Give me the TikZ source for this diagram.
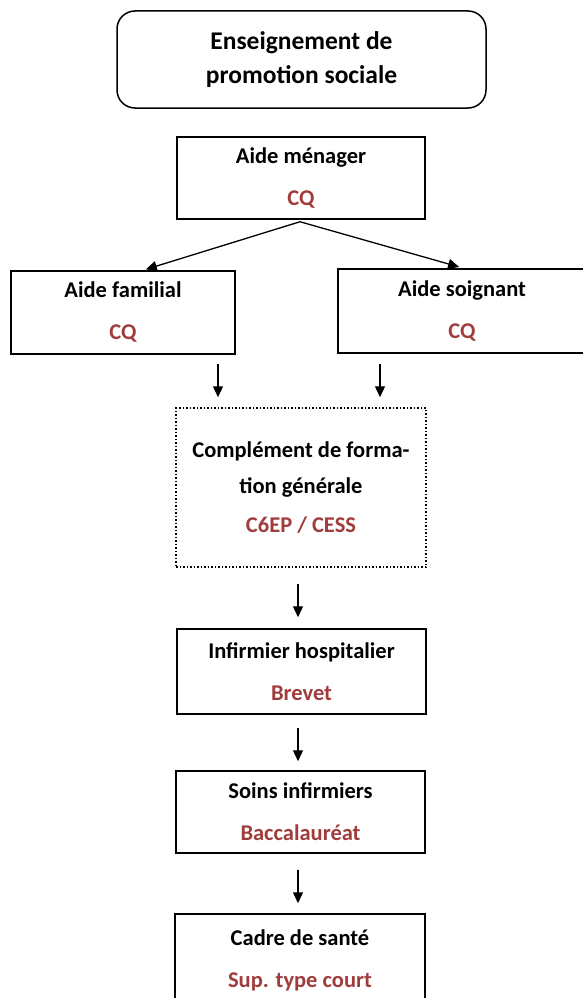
\documentclass[tikz,border=0pt]{standalone}
\usepackage{fontspec}
\setmainfont{Carlito}
\usetikzlibrary{arrows.meta}
\definecolor{cqred}{RGB}{160,60,60}
\tikzset{
  box/.style={draw, line width=1.5pt, inner sep=0pt, align=center,
    minimum width=248pt, minimum height=82pt,
    font=\fontsize{22.5}{27}\selectfont\bfseries},
  arr/.style={line width=1.3pt, -{Triangle[length=11pt,width=10pt]}}
}
\newcommand{\qual}[1]{\\[15pt]\textcolor{cqred}{#1}}
\begin{document}
\begin{tikzpicture}[x=1pt,y=-1pt]
\useasboundingbox (0,0) rectangle (583,998);
\clip (0,0) rectangle (583,998);
\node[box, rounded corners=18pt, minimum width=369pt, minimum height=97pt,
  font=\fontsize{25.5}{34}\selectfont\bfseries] (title) at (301.5,59.5)
  {Enseignement de\\promotion sociale};
\node[box] (menager) at (301,178) {Aide ménager\qual{CQ}};
\node[box, minimum width=224pt, minimum height=83pt] (familial) at (123,312.5) {Aide familial\qual{CQ}};
\node[box, line width=2.4pt, minimum width=248pt, minimum height=84pt] (soignant) at (462,311) {Aide soignant\qual{CQ}};
\node[box, line width=1.5pt, dotted, minimum width=250pt, minimum height=159pt,
  font=\fontsize{22.5}{36}\selectfont\bfseries] (compl) at (301,487.5)
  {Complément de forma-\\tion générale\\[3pt]\textcolor{cqred}{C6EP / CESS}};
\node[box, minimum width=249pt, minimum height=85pt] (infirmier) at (301.5,671.5) {Infirmier hospitalier\qual{Brevet}};
\node[box, minimum width=249pt] (soins) at (300.5,812) {Soins infirmiers\qual{Baccalauréat}};
\node[box, minimum width=250pt, minimum height=92pt] (cadre) at (300,960) {Cadre de santé\qual{Sup. type court}};

\draw[arr, shorten >=3pt] ([xshift=-1pt,yshift=-2pt]menager.south) -- ([xshift=20pt]familial.north);
\draw[arr, shorten >=3pt] ([xshift=-1pt,yshift=-2pt]menager.south) -- (soignant.north);
\draw[arr] ([xshift=95pt,yshift=-9pt]familial.south) -- ([xshift=-83pt,yshift=10pt]compl.north);
\draw[arr] ([xshift=-82pt,yshift=-10pt]soignant.south) -- ([xshift=79pt,yshift=10pt]compl.north);
\draw[arr, shorten <=16pt, shorten >=11pt] ([xshift=-3pt]compl.south) -- ([xshift=-3pt]compl.south |- infirmier.north);
\draw[arr, shorten <=13pt, shorten >=9pt] ([xshift=-3.5pt]infirmier.south) -- ([xshift=-3.5pt]infirmier.south |- soins.north);
\draw[arr, shorten <=16pt, shorten >=10pt] ([xshift=-2.5pt]soins.south) -- ([xshift=-2.5pt]soins.south |- cadre.north);
\end{tikzpicture}
\end{document}
